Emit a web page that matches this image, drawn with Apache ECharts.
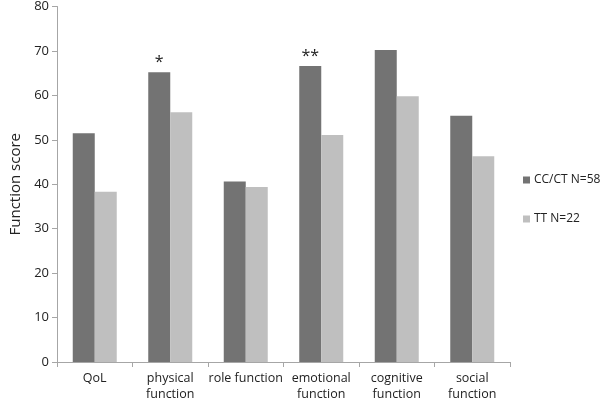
<!DOCTYPE html>
<html>
<head>
<meta charset="utf-8">
<script src="https://cdn.jsdelivr.net/npm/echarts@6/dist/echarts.min.js"></script>
<style>html,body{margin:0;padding:0;background:#fff}#c{width:600px;height:402px}</style>
</head>
<body>
<div id="c"></div>
<script>
var categories = ['QoL', 'physical\nfunction', 'role function', 'emotional\nfunction', 'cognitive\nfunction', 'social\nfunction'];
var seriesNames = ['CC/CT N=58', 'TT N=22'];
var ccct = [51.5, 65.2, 40.6, 66.6, 70.2, 55.4];
var tt = [38.3, 56.2, 39.4, 51.1, 59.8, 46.3];
var significance = ['', '*', '', '**', '', ''];
var yTicks = {min: 0, max: 80, interval: 10};

var font = '"Open Sans", "Liberation Sans", sans-serif';
var chart = echarts.init(document.getElementById('c'));
chart.setOption({
  animation: false,
  textStyle: {fontFamily: font},
  grid: {left: 46, right: 90, top: 5, bottom: 39, containLabel: false},
  legend: {
    orient: 'vertical', left: 518, top: 169,
    itemWidth: 7, itemHeight: 7, itemGap: 27,
    icon: 'rect',
    textStyle: {fontSize: 12, color: '#222', fontFamily: font, padding: [0, 0, 0, -1]},
    data: seriesNames
  },
  xAxis: {
    type: 'category', data: categories,
    axisLine: {lineStyle: {color: '#a6a6a6'}},
    axisTick: {show: true, length: 5, lineStyle: {color: '#a6a6a6'}},
    axisLabel: {fontSize: 12.5, color: '#222', margin: 8, interval: 0, lineHeight: 16, fontFamily: font}
  },
  yAxis: {
    type: 'value', min: yTicks.min, max: yTicks.max, interval: yTicks.interval,
    name: 'Function score', nameLocation: 'middle', nameGap: 34,
    nameTextStyle: {fontSize: 15, color: '#222', fontFamily: font},
    splitLine: {show: false},
    axisLine: {show: true, lineStyle: {color: '#a6a6a6'}},
    axisTick: {show: true, length: 5, lineStyle: {color: '#a6a6a6'}},
    axisLabel: {fontSize: 13, color: '#222', margin: 8, fontFamily: font}
  },
  series: [
    {
      name: seriesNames[0], type: 'bar', data: ccct, barWidth: 22, barGap: '0%',
      itemStyle: {color: '#737373'},
      label: {
        show: true, position: 'top', distance: 2, fontSize: 16, color: '#222',
        formatter: function (p) { return significance[p.dataIndex]; }
      }
    },
    {
      name: seriesNames[1], type: 'bar', data: tt, barWidth: 22, barGap: '0%',
      itemStyle: {color: '#bfbfbf'}
    }
  ]
});
</script>
</body>
</html>
